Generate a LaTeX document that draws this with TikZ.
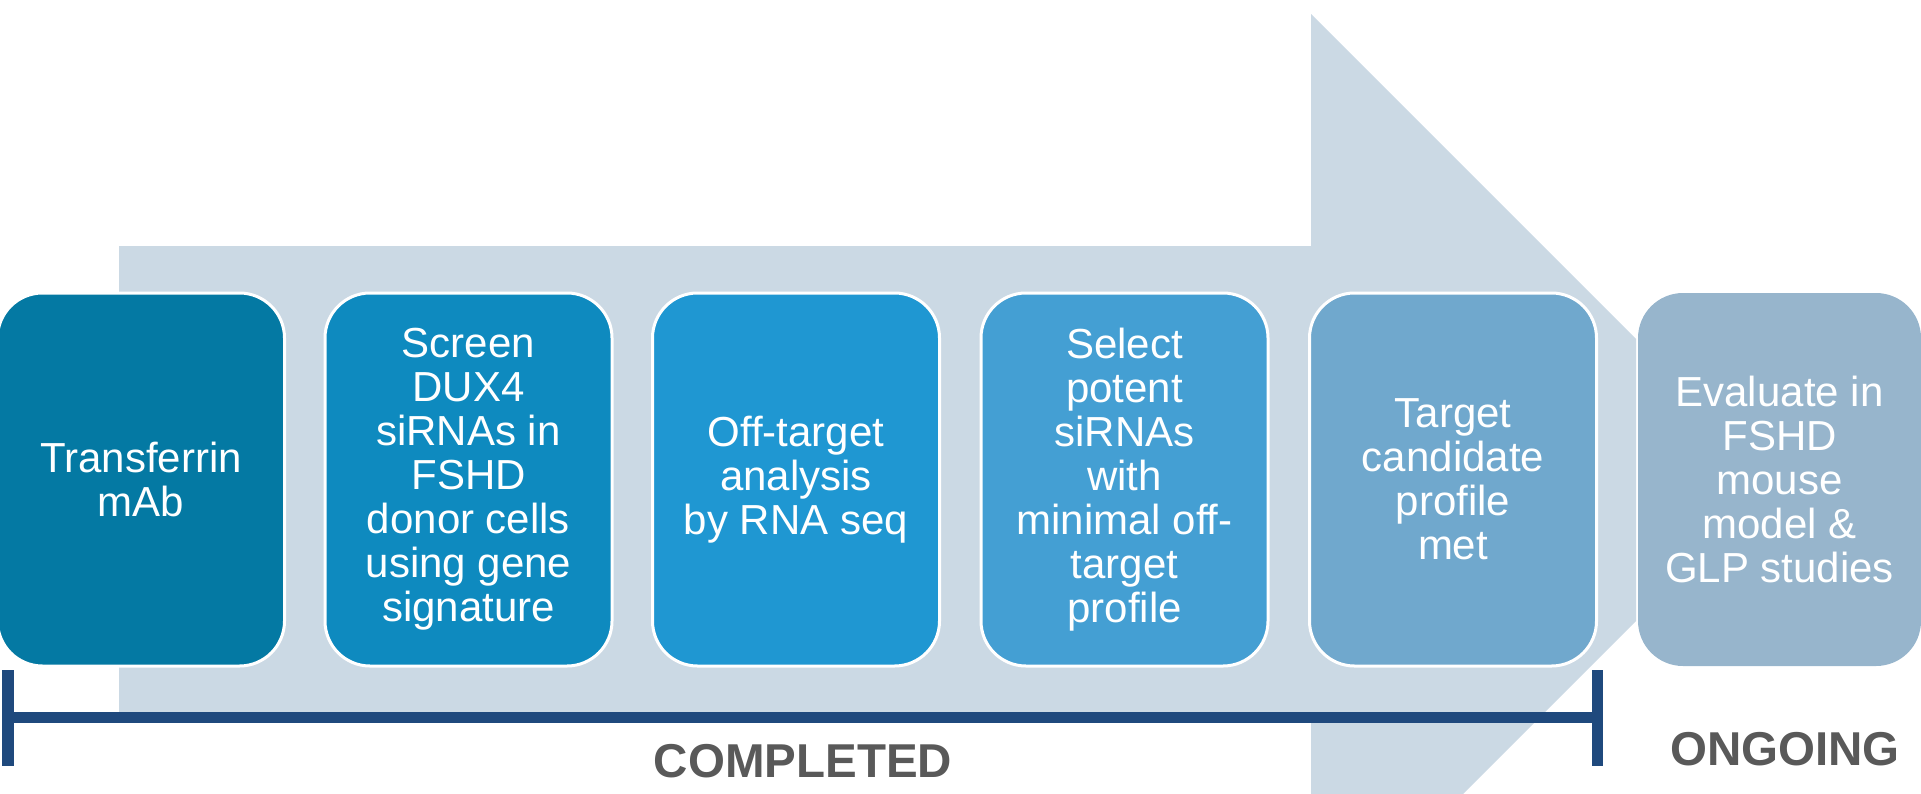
\documentclass[tikz,border=0pt]{standalone}
\usepackage{fontspec}
\setmainfont{Liberation Sans}
\definecolor{arrowc}{HTML}{CBD9E4}
\definecolor{cA}{HTML}{0479A3}
\definecolor{cB}{HTML}{0E8ABF}
\definecolor{cC}{HTML}{1F97D2}
\definecolor{cD}{HTML}{449FD3}
\definecolor{cE}{HTML}{70A8CD}
\definecolor{cF}{HTML}{97B5CC}
\definecolor{brk}{HTML}{1F497D}
\definecolor{lbl}{HTML}{595959}
\tikzset{
  stagebox/.style={rectangle, rounded corners=22.5pt, draw=white, line width=1.5pt,
    minimum width=143.5pt, minimum height=186.5pt, inner sep=0pt, align=center,
    text=white, font=\fontsize{21}{22}\selectfont},
  lastbox/.style={stagebox, draw=none, minimum width=141.5pt},
  phase/.style={anchor=base, text=lbl, font=\fontsize{23.75}{28}\selectfont\bfseries, inner sep=0pt}
}
\begin{document}
\begin{tikzpicture}[x=0.5pt, y=-0.5pt]
\useasboundingbox (0,0) rectangle (1921,793);
\clip (0,0) rectangle (1921,793);
% big arrow (tip cut off at the last box)
\fill[arrowc] (119,246) -- (1311,246) -- (1311,14) -- (1636,339) -- (1636,621) -- (1311,946) -- (1311,714) -- (119,714) -- cycle;
% stage boxes
\node[stagebox, fill=cA] (b1) at (141,479.5) {Transferrin\\mAb};
\node[stagebox, fill=cB] (b2) at (468.5,479.5) {Screen\\DUX4\\siRNAs in\\FSHD\\donor cells\\using gene\\signature};
\node[stagebox, fill=cC] (b3) at (796,479.5) {Off-target\\analysis\\by RNA seq};
\node[stagebox, fill=cD] (b4) at (1124.5,479.5) {Select\\potent\\siRNAs\\with\\minimal off-\\target\\profile};
\node[stagebox, fill=cE] (b5) at (1453,479.5) {Target\\candidate\\profile\\met};
\node[lastbox, fill=cF] (b6) at (1779.5,479.5) {Evaluate in\\FSHD\\mouse\\model \&\\GLP studies};
% bracket
\fill[brk] (2,712) rectangle (1603,723);
\fill[brk] (2,670) rectangle (14,766);
\fill[brk] (1592,670) rectangle (1603,766);
% labels
\node[phase] (done) at (803,777) {COMPLETED};
\node[phase] (ongo) at (1785,765) {ONGOING};
\end{tikzpicture}
\end{document}
